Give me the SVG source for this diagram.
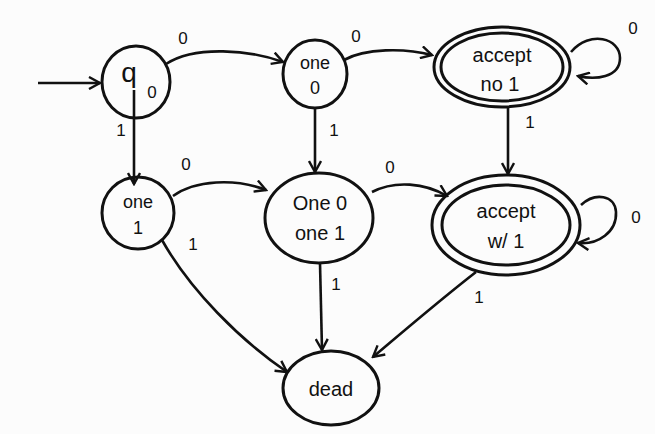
<svg xmlns="http://www.w3.org/2000/svg" width="655" height="434" viewBox="0 0 655 434">
<style>
.n{fill:none;stroke:#111;stroke-width:3}
.e{fill:none;stroke:#111;stroke-width:2.6;marker-end:url(#ah)}
text{font-family:"Liberation Sans","DejaVu Sans",sans-serif;fill:#111;text-anchor:middle}
.t{font-size:20px}
.m{font-size:18px}
.l{font-size:17px}
</style>
<defs>
<marker id="ah" viewBox="0 0 14 14" refX="12" refY="7" markerWidth="14" markerHeight="14" markerUnits="userSpaceOnUse" orient="auto">
<path d="M1,1 L12,7 L1,13" fill="none" stroke="#111" stroke-width="2.4"/>
</marker>
</defs>
<rect width="655" height="434" fill="#fcfcfc"/>
<g id="q0"><ellipse class="n" cx="136" cy="82" rx="34" ry="36"/><text x="129" y="82" style="font-size:28px">q</text><text class="l" x="152" y="98">0</text></g>
<g id="one0"><ellipse class="n" cx="315" cy="74" rx="32" ry="34"/><text class="m" x="315" y="69">one</text><text class="m" x="315" y="94">0</text></g>
<g id="acceptno1"><ellipse class="n" cx="502" cy="67" rx="68" ry="40"/><ellipse class="n" cx="502" cy="67" rx="61" ry="34"/><text class="t" x="502" y="62">accept</text><text class="t" x="500" y="91">no 1</text></g>
<g id="one1"><ellipse class="n" cx="138" cy="213" rx="36" ry="36"/><text class="m" x="138" y="208">one</text><text class="m" x="138" y="234">1</text></g>
<g id="one0one1"><ellipse class="n" cx="319" cy="218" rx="54" ry="45"/><text class="t" x="320" y="210">One 0</text><text class="t" x="320" y="240">one 1</text></g>
<g id="acceptw1"><ellipse class="n" cx="506" cy="225" rx="74" ry="50"/><ellipse class="n" cx="506" cy="225" rx="64" ry="40"/><text class="t" x="506" y="218">accept</text><text class="t" x="506" y="248">w/ 1</text></g>
<g id="dead"><ellipse class="n" cx="331" cy="388" rx="48" ry="37"/><text class="t" x="331" y="396">dead</text></g>
<g id="edges">
<path class="e" d="M38,83 L100,83"/>
<path class="e" d="M166,64 C195,45 250,50 283,62"/>
<path class="e" d="M344,60 C365,48 405,48 432,55"/>
<path class="e" d="M571,52 C590,30 620,38 620,58 C620,78 595,80 578,76"/>
<path class="e" d="M134,90 L134,184"/>
<path class="e" d="M315,108 L315,172"/>
<path class="e" d="M508,107 L508,174"/>
<path class="e" d="M173,196 C195,180 235,178 266,190"/>
<path class="e" d="M372,192 C395,180 425,183 447,196"/>
<path class="e" d="M581,205 C595,192 615,195 616,212 C617,232 598,245 578,243"/>
<path class="e" d="M162,240 C190,290 240,340 287,372"/>
<path class="e" d="M320,263 L322,350"/>
<path class="e" d="M476,272 C440,300 405,330 373,357"/>
</g>
<g id="labels">
<text class="l" x="183" y="44">0</text>
<text class="l" x="356" y="42">0</text>
<text class="l" x="633" y="34">0</text>
<text class="l" x="121" y="136">1</text>
<text class="l" x="334" y="136">1</text>
<text class="l" x="530" y="128">1</text>
<text class="l" x="186" y="170">0</text>
<text class="l" x="390" y="173">0</text>
<text class="l" x="636" y="223">0</text>
<text class="l" x="193" y="250">1</text>
<text class="l" x="336" y="290">1</text>
<text class="l" x="479" y="303">1</text>
</g>
</svg>
